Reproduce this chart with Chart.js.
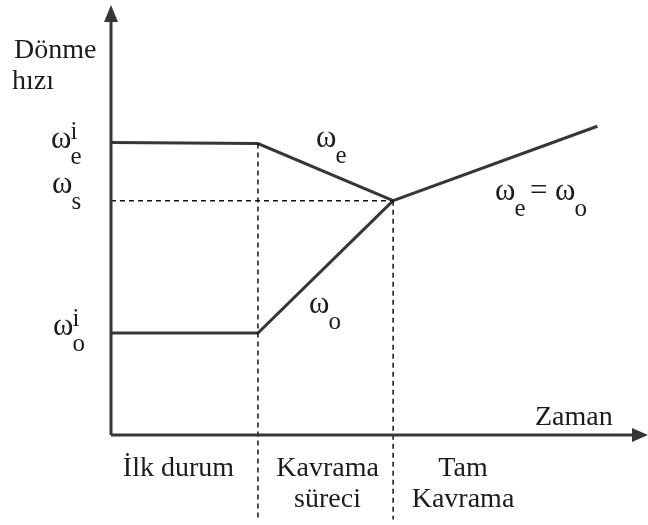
<!DOCTYPE html>
<html>
<head>
<meta charset="utf-8">
<script src="https://cdn.jsdelivr.net/npm/chart.js@4"></script>
<style>
  html, body { margin: 0; padding: 0; background: #fff; }
  #wrap { width: 648px; height: 525px; }
</style>
</head>
<body>
<div id="wrap"><canvas id="clutch_chart"></canvas></div>
<script>
// time marks: origin, clutch start, sync point, end of line
const phaseTimes = [0, 1, 1.92, 3.31];
// engine speed (omega_e) and output speed (omega_o)
const engineSpeed = [2.87, 2.86, 2.30, 3.03];
const outputSpeed = [1.00, 1.00, 2.30];
const syncSpeed = 2.30;
const xMax = 3.6;
const yMax = 4.22;
const dashBottom = -0.83;

const phaseLabels = [['İlk durum'], ['Kavrama', 'süreci'], ['Tam', 'Kavrama']];

const SERIF = 'Liberation Serif';
const INK = '#363636';

function pts(xs, ys) {
  return ys.map((y, i) => ({ x: xs[i], y: y }));
}

function setFont(ctx, size) {
  ctx.font = size + 'px ' + SERIF;
}

// omega with sub/superscript
function omega(ctx, x, y, sub, sup) {
  setFont(ctx, 31);
  ctx.fillText('ω', x, y);
  const w = ctx.measureText('ω').width;
  setFont(ctx, 25);
  if (sub) ctx.fillText(sub, x + w - 1, y + 16);
  if (sup) ctx.fillText(sup, x + w - 1, y - 9);
  return w;
}

const decorations = {
  id: 'decorations',
  afterDraw(chart) {
    const ctx = chart.ctx;
    const xs = chart.scales.x, ys = chart.scales.y;
    const x0 = xs.getPixelForValue(0), y0 = ys.getPixelForValue(0);
    ctx.save();
    // axes
    ctx.strokeStyle = INK; ctx.fillStyle = INK; ctx.lineWidth = 3;
    ctx.beginPath();
    ctx.moveTo(x0, y0); ctx.lineTo(x0, 18);
    ctx.moveTo(x0, y0); ctx.lineTo(636, y0);
    ctx.stroke();
    ctx.beginPath();
    ctx.moveTo(x0, 5); ctx.lineTo(x0 - 7, 22); ctx.lineTo(x0 + 7, 22); ctx.closePath();
    ctx.fill();
    ctx.beginPath();
    ctx.moveTo(648, y0); ctx.lineTo(632, y0 - 7); ctx.lineTo(632, y0 + 7); ctx.closePath();
    ctx.fill();

    ctx.fillStyle = '#1c1c1c';
    ctx.textBaseline = 'alphabetic';
    ctx.textAlign = 'left';
    setFont(ctx, 28);
    ctx.fillText('Dönme', 14, 58);
    ctx.fillText('hızı', 12, 89);
    ctx.fillText('Zaman', 535, 425);

    // y labels
    omega(ctx, 51, ys.getPixelForValue(engineSpeed[0]) + 5, 'e', 'i');
    omega(ctx, 52, ys.getPixelForValue(syncSpeed) - 8, 's', null);
    omega(ctx, 53, ys.getPixelForValue(outputSpeed[0]) + 2, 'o', 'i');

    // line labels
    omega(ctx, 316, 147, 'e', null);
    omega(ctx, 309, 313, 'o', null);
    omega(ctx, 495, 200, 'e', null);
    setFont(ctx, 31);
    ctx.fillText('=', 530, 200);
    omega(ctx, 555, 200, 'o', null);

    // phase labels
    ctx.textAlign = 'center';
    setFont(ctx, 28);
    const centers = [
      (x0 + xs.getPixelForValue(phaseTimes[1])) / 2 - 6,
      (xs.getPixelForValue(phaseTimes[1]) + xs.getPixelForValue(phaseTimes[2])) / 2 + 2,
      463
    ];
    phaseLabels.forEach((lines, i) => {
      lines.forEach((t, j) => ctx.fillText(t, centers[i], 476 + j * 31));
    });
    ctx.restore();
  }
};

const solid = { borderColor: INK, borderWidth: 3, pointRadius: 0, showLine: true, fill: false, tension: 0 };
const dashed = { borderColor: '#111', borderWidth: 1.5, borderDash: [5, 4], pointRadius: 0, showLine: true, fill: false, clip: false };

new Chart(document.getElementById('clutch_chart'), {
  type: 'scatter',
  data: {
    datasets: [
      Object.assign({ label: 'sync', data: [{ x: 0, y: syncSpeed }, { x: phaseTimes[2], y: syncSpeed }] }, dashed),
      Object.assign({ label: 'start', data: [{ x: phaseTimes[1], y: engineSpeed[1] }, { x: phaseTimes[1], y: dashBottom }] }, dashed),
      Object.assign({ label: 'lock', data: [{ x: phaseTimes[2], y: syncSpeed }, { x: phaseTimes[2], y: dashBottom }] }, dashed),
      Object.assign({ label: 'ωe', data: pts(phaseTimes, engineSpeed) }, solid),
      Object.assign({ label: 'ωo', data: pts(phaseTimes, outputSpeed) }, solid)
    ]
  },
  options: {
    responsive: true,
    maintainAspectRatio: false,
    animation: false,
    layout: { padding: { left: 111, right: 8, top: 5, bottom: 90 } },
    plugins: { legend: { display: false }, tooltip: { enabled: false } },
    scales: {
      x: { type: 'linear', min: 0, max: xMax, display: false },
      y: { type: 'linear', min: 0, max: yMax, display: false }
    }
  },
  plugins: [decorations]
});
</script>
</body>
</html>
